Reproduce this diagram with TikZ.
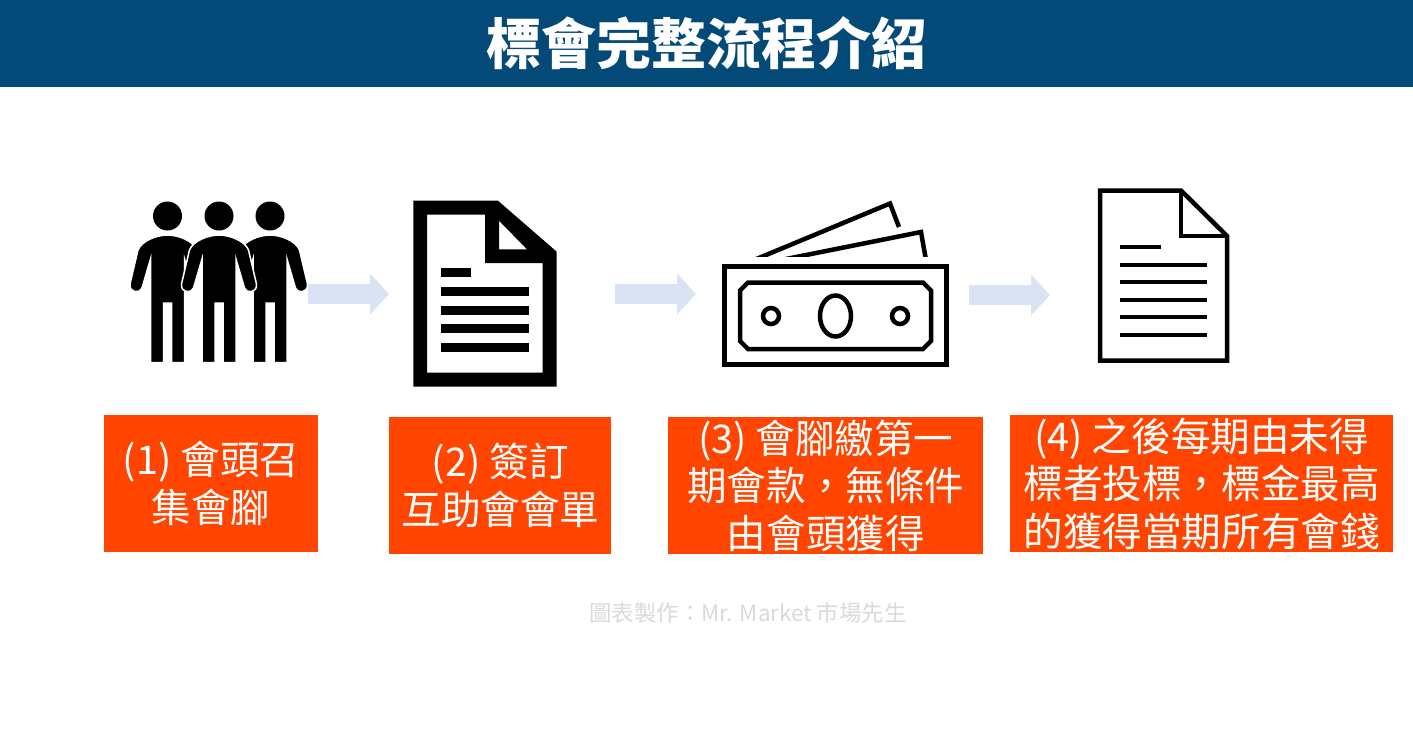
\documentclass[tikz,border=0pt]{standalone}
\usepackage{fontspec}
\setmainfont{Noto Sans CJK TC}
\usepackage{tikz}
\usetikzlibrary{arrows.meta,positioning}
\definecolor{barblue}{HTML}{034A79}
\definecolor{boxorange}{HTML}{FF4500}
\definecolor{arrowblue}{HTML}{DAE3F3}
\definecolor{footgray}{HTML}{D9D9D9}
\tikzset{
  stepbox/.style={fill=boxorange, text=white, inner sep=0pt, align=center,
    minimum height=137pt, font=\fontsize{39.6}{47.5}\selectfont,
    execute at begin node={\rule{0pt}{42pt}}},
  flowarrow/.style={draw=arrowblue, line width=20pt,
    -{Triangle[length=19pt,width=40pt]}},
  iconline/.style={draw=black, line width=4.5pt, line join=miter},
  person/.pic={
    \fill[black] (0,216) circle (14.5);
    \path[fill=black, draw=white, line width=1.5pt]
      (-17,362.5) -- (-17,259) -- (-25.5,288)
      .. controls (-27,293.5) and (-38.5,293.5) .. (-37.5,284)
      -- (-29.5,250) .. controls (-26,241) and (-11,235) .. (0,235)
      .. controls (11,235) and (26,241) .. (29.5,250)
      -- (37.5,284) .. controls (38.5,293.5) and (27,293.5) .. (25.5,288)
      -- (17,259) -- (17,362.5) -- (4,362.5) -- (4,303) -- (-4,303) -- (-4,362.5) -- cycle;
  },
}
\begin{document}
\begin{tikzpicture}[x=1pt,y=-1pt]
    \useasboundingbox (0,0) rectangle (1413,740);
    \node[fill=barblue, minimum width=1413pt, minimum height=87pt, inner sep=0pt,
      text=white, font=\fontsize{55}{60}\selectfont\bfseries] (title) at (706.5,43.5) {標會完整流程介紹};

    % steps
    \node[stepbox, minimum width=214pt] (box1) at (211,483.5) {(1) 會頭召\\集會腳};
    \node[stepbox, minimum width=222pt] (box2) [right=71pt of box1, yshift=-2pt] {(2) 簽訂\\互助會會單};
    \node[stepbox, minimum width=315pt] (box3) [right=56.5pt of box2] {(3) 會腳繳第一\\期會款，無條件\\由會頭獲得};
    \node[stepbox, minimum width=383pt] (box4) [right=26.5pt of box3, yshift=2pt] {(4) 之後每期由未得\\標者投標，標金最高\\的獲得當期所有會錢};
    \node[text=footgray, font=\fontsize{22.4}{26}\selectfont] (foot) at (748,613) {圖表製作：Mr. Market 市場先生};

    % people
    \begin{scope}
      \clip (120,195) -- (205,195) -- (205,248) -- (184,272) -- (184,370) -- (120,370) -- cycle;
      \pic at (167.5,0) {person};
    \end{scope}
    \begin{scope}
      \clip (318,195) -- (233,195) -- (233,248) -- (253,272) -- (253,370) -- (318,370) -- cycle;
      \pic at (270,0) {person};
    \end{scope}
    \pic at (219,0) {person};

    % contract
    \fill[black, even odd rule]
      (413.3,200.7) -- (498,200.7) -- (556.7,251.7) -- (556.7,386.7) -- (413.3,386.7) -- cycle
      (427,214.7) -- (485,214.7) -- (485,263) -- (542.7,263) -- (542.7,372.7) -- (427,372.7) -- cycle
      (499,220.7) -- (527,249.3) -- (499,249.3) -- cycle;
    \fill[black] (441,268.3) rectangle (471,277.3);
    \foreach \ly in {287,305.7,324.3,342.7}
      \fill[black] (441,\ly) rectangle (529,\ly+9);

    % money
    \begin{scope}
      \clip (730,195) rectangle (940,256);
      \draw[iconline] (754,260) -- (890,203.5) -- (899,227);
      \draw[iconline] (781,260) -- (921,232) -- (926,260);
    \end{scope}
    \draw[iconline] (724.5,266.5) rectangle (946.5,364.5);
    \draw[iconline] (748,282.5) -- (923,282.5) -- (931,290.5) -- (931,341) -- (923,349) -- (748,349) -- (740,341) -- (740,290.5) -- cycle;
    \draw[iconline] (835.5,316) ellipse (15.5 and 20.5);
    \draw[iconline] (771,316) circle (8);
    \draw[iconline] (900,316) circle (8);

    % bid sheet
    \draw[iconline] (1100,190.5) -- (1181,190.5) -- (1227,236) -- (1227,360.5) -- (1100,360.5) -- cycle;
    \draw[iconline] (1181,190.5) -- (1181,236) -- (1227,236);
    \draw[draw=black, line width=4pt] (1120,247.3) -- (1161,247.3);
    \foreach \ly in {265,282.3,300,317.3,335}
      \draw[draw=black, line width=4pt] (1120,\ly) -- (1207,\ly);

    % arrows between the icons
    \coordinate (a1) at (308,294);
    \coordinate (b1) at (389,294);
    \coordinate (a2) at (615,294);
    \coordinate (b2) at (696,294);
    \coordinate (a3) at (969,295);
    \coordinate (b3) at (1050,295);
    \draw[flowarrow] (a1) -- (b1);
    \draw[flowarrow] (a2) -- (b2);
    \draw[flowarrow] (a3) -- (b3);
\end{tikzpicture}
\end{document}
